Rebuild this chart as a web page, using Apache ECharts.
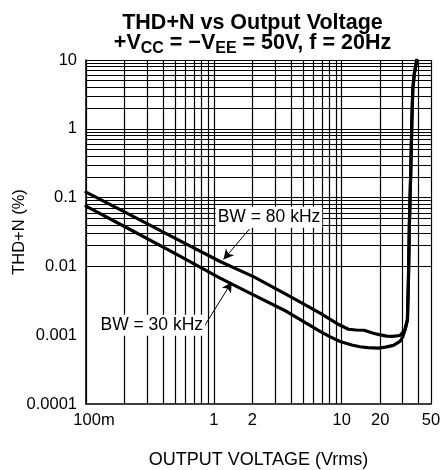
<!DOCTYPE html>
<html><head><meta charset="utf-8">
<script src="https://cdn.jsdelivr.net/npm/echarts@6/dist/echarts.min.js"></script>
<style>html,body{margin:0;padding:0;background:#fff}#c{width:443px;height:470px}</style>
</head><body><div id="c"></div>
<script>
// Output voltage (Vrms) and THD+N (%)
const vout80 = [0.1, 0.2, 0.5, 1.12, 2.04, 3.72, 6.78, 9.5, 11.3, 13, 15, 17.7, 20, 22.5, 25, 28.6, 31.3, 32.7, 33.3, 33.9, 34.7, 35.4, 36.0, 37.1, 38.7];
const thd80  = [0.12, 0.062, 0.0255, 0.0118, 0.0071, 0.0039, 0.0021, 0.00143, 0.00122, 0.00119, 0.00118, 0.00107, 0.00101, 0.00097, 0.00096, 0.00099, 0.0012, 0.00167, 0.0064, 0.043, 0.23, 1.22, 3.7, 6.5, 10];
const vout30 = [0.1, 0.2, 0.5, 1.12, 2.04, 3.72, 6.78, 8, 9.72, 12, 13.9, 16, 19.4, 22, 25.4, 28.6, 30.1, 31.3, 32.7, 33.3, 33.9, 34.7, 35.4, 36.0, 37.1, 38.7];
const thd30  = [0.075, 0.038, 0.0153, 0.00676, 0.00386, 0.00221, 0.00114, 0.00096, 0.00081, 0.00072, 0.00068, 0.00066, 0.00065, 0.00067, 0.00071, 0.00081, 0.00095, 0.0012, 0.00167, 0.0064, 0.043, 0.23, 1.22, 3.7, 6.5, 10];

const xTickValues = [0.1, 1, 2, 10, 20, 50];
const xTickLabels = ['100m', '1', '2', '10', '20', '50'];
const yTickLabels = ['0.0001', '0.001', '0.01', '0.1', '1', '10'];
const xGridValues = [0.1, 0.2, 0.3, 0.4, 0.5, 0.6, 0.7, 0.8, 0.9, 1, 2, 3, 4, 5, 6, 7, 8, 9, 10, 20, 30, 40, 50];
const yGridValues = [0.0001, 0.0002, 0.0003, 0.0004, 0.0005, 0.0006, 0.0007, 0.0008, 0.0009,
  0.001, 0.002, 0.003, 0.004, 0.005, 0.006, 0.007, 0.008, 0.009,
  0.01, 0.02, 0.03, 0.04, 0.05, 0.06, 0.07, 0.08, 0.09,
  0.1, 0.2, 0.3, 0.4, 0.5, 0.6, 0.7, 0.8, 0.9,
  1, 2, 3, 4, 5, 6, 7, 8, 9, 10];
const annotationTexts = ['BW = 80 kHz', 'BW = 30 kHz'];

// annotation anchors in data coordinates
const annotLabelAt = [[2.70, 0.0519], [0.327, 0.00139]];
const annotArrows = [[[1.90, 0.0349], [1.19, 0.0126]], [[0.838, 0.00133], [1.38, 0.0059]]];

const FONT = '"Liberation Sans", Arial, Helvetica, sans-serif';
const chart = echarts.init(document.getElementById('c'), null, {renderer: 'canvas'});

const zip = (a, b) => a.map((v, i) => [v, b[i]]);

chart.setOption({
  animation: false,
  backgroundColor: '#fff',
  textStyle: {fontFamily: FONT},
  graphic: [{
    type: 'text', x: 252.5, y: 13, z: 10,
    style: {
      text: '{t|THD+N vs Output Voltage}\n{m|+V}{s|CC}{m| = \u2212V}{s|EE}{m| = 50V, f = 20Hz}',
      align: 'center', verticalAlign: 'top',
      rich: {
        t: {fontFamily: FONT, fontSize: 21.5, fontWeight: 'bold', lineHeight: 19.5, fill: '#000'},
        m: {fontFamily: FONT, fontSize: 21.5, fontWeight: 'bold', lineHeight: 19.5, verticalAlign: 'top', fill: '#000'},
        s: {fontFamily: FONT, fontSize: 16, fontWeight: 'bold', lineHeight: 15, verticalAlign: 'top', padding: [8, 0, 0, 0], fill: '#000'}
      }
    }
  }],
  grid: {left: 86, right: 12, top: 60, bottom: 66, containLabel: false, outerBoundsMode: 'none'},
  xAxis: {
    type: 'log', logBase: 10, min: 0.1, max: 50,
    name: 'OUTPUT VOLTAGE (Vrms)', nameLocation: 'middle', nameGap: 47, nameMoveOverlap: false,
    nameTextStyle: {fontFamily: FONT, fontSize: 18, color: '#000'},
    axisLine: {show: true, lineStyle: {color: '#000', width: 1.5}},
    axisTick: {show: false}, axisLabel: {show: false}, splitLine: {show: false}
  },
  yAxis: {
    type: 'log', logBase: 10, min: 0.0001, max: 10,
    name: 'THD+N (%)', nameLocation: 'middle', nameGap: 58, nameMoveOverlap: false,
    nameTextStyle: {fontFamily: FONT, fontSize: 16.5, color: '#000'},
    axisLine: {show: true, lineStyle: {color: '#000', width: 1.5}},
    axisTick: {show: false}, splitLine: {show: false},
    axisLabel: {
      fontFamily: FONT, fontSize: 16.5, color: '#000', margin: 9,
      formatter: v => yTickLabels[Math.round(Math.log10(v)) + 4] || ''
    }
  },
  series: [
    {
      name: 'grid', type: 'line', data: [], z: 1, silent: true,
      markLine: {
        silent: true, symbol: 'none', animation: false,
        label: {show: false},
        lineStyle: {color: '#000', width: 1.2, type: 'solid', opacity: 1},
        data: xGridValues.map(v => ({xAxis: v})).concat(yGridValues.map(v => ({yAxis: v})))
      }
    },
    {
      name: 'BW = 80 kHz', type: 'line', data: zip(vout80, thd80), z: 3,
      showSymbol: false, smooth: false,
      lineStyle: {color: '#000', width: 3.2, join: 'round', cap: 'round'}
    },
    {
      name: 'BW = 30 kHz', type: 'line', data: zip(vout30, thd30), z: 3,
      showSymbol: false, smooth: false,
      lineStyle: {color: '#000', width: 3.2, join: 'round', cap: 'round'}
    },
    {
      name: 'annotations', type: 'scatter', z: 5, symbolSize: 0, clip: false, silent: true,
      itemStyle: {opacity: 1, color: '#000'},
      data: annotLabelAt.map((p, i) => ({value: p, name: annotationTexts[i]})),
      label: {
        show: true, position: 'inside', formatter: p => p.name,
        fontFamily: FONT, fontSize: 17.5, color: '#000', opacity: 1,
        backgroundColor: '#fff', padding: [2, 2, 1, 2]
      },
      markLine: {
        silent: true, symbol: ['none', 'arrow'], symbolSize: [8, 10], animation: false,
        label: {show: false},
        lineStyle: {color: '#000', width: 1, type: 'solid', opacity: 1},
        itemStyle: {color: '#000', opacity: 1},
        data: annotArrows.map(a => [{coord: a[0]}, {coord: a[1]}])
      }
    },
    {
      name: 'xTicks', type: 'scatter', z: 5, symbolSize: 0, clip: false, silent: true,
      itemStyle: {opacity: 1},
      data: xTickValues.map((v, i) => ({
        value: [v, 0.0001], name: xTickLabels[i],
        label: i === 0 ? {offset: [8, 0]} : undefined
      })),
      label: {
        show: true, position: 'bottom', distance: 8, formatter: p => p.name,
        fontFamily: FONT, fontSize: 16.5, color: '#000'
      }
    }
  ]
});
</script></body></html>
